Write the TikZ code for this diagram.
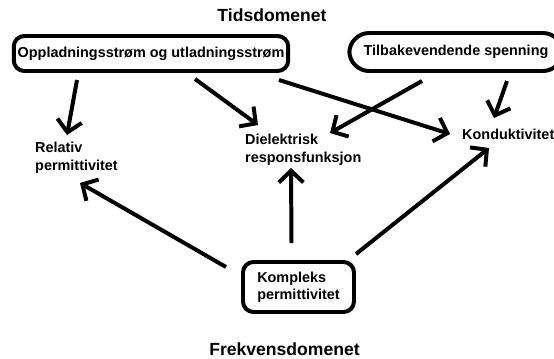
\documentclass[tikz,border=0pt]{standalone}
\usepackage{fontspec}
\setmainfont{Liberation Sans}
\usetikzlibrary{arrows.meta,calc}

\tikzset{
  boks/.style={draw, line width=3.4pt, rounded corners=9pt, align=left,
    font=\bfseries\fontsize{12.3}{14.5}\selectfont},
  etikett/.style={anchor=north west, inner sep=0pt, align=left,
    font=\bfseries\fontsize{12.3}{15.5}\selectfont},
  domene/.style={font=\bfseries\fontsize{15}{17}\selectfont},
  pil/.style={line width=3.4pt, -{Straight Barb[length=10pt,width=21pt]}}
}

\begin{document}
\begin{tikzpicture}[x=0.03cm,y=-0.03cm]
  \useasboundingbox (0,0) rectangle (554,358);

  % Domains
  \node[domene] (tid) at (272,15) {Tidsdomenet};
  \node[domene] (frekv) at (284.5,349) {Frekvensdomenet};

  % Measurements
  \node[boks, minimum width=8.16cm, minimum height=1.05cm] (lading) at (151,53.5)
    {Oppladningsstrøm og utladningsstrøm};
  \node[boks, rounded corners=17pt, minimum width=6.4cm, minimum height=1.14cm] (spenning) at (456,52)
    {Tilbakevendende spenning};
  \node[boks, minimum width=3.33cm, minimum height=1.5cm] (kompleks) at (298.5,287)
    {Kompleks\\permittivitet};

  % Quantities
  \node[etikett] (rel) at (35,142) {Relativ\\permittivitet};
  \node[etikett] (diel) at (245,134) {Dielektrisk\\responsfunksjon};
  \node[etikett] (kond) at (462,129) {Konduktivitet};

  % Arrows from the time domain
  \draw[pil] ($(lading.south)+(-74,7)$) -- ($(rel.north west)+(32,-7)$);
  \draw[pil] ($(lading.south)+(44,6)$) -- ($(diel.north west)+(13,-9)$);
  \draw[pil] ($(lading.south)+(128,7)$) -- ($(kond.north west)+(-12,5)$);
  \draw[pil] ($(spenning.south)+(-34,8)$) -- ($(diel.north west)+(85,-1)$);
  \draw[pil] ($(spenning.south)+(51,8)$) -- ($(kond.north west)+(32,-11)$);

  % Arrows from the frequency domain
  \draw[pil] ($(kompleks.west)+(-15,-20)$) -- ($(rel.north west)+(45,41)$);
  \draw[pil] ($(kompleks.north)+(-7,-17)$) -- ($(diel.north west)+(46,34)$);
  \draw[pil] ($(kompleks.north east)+(0,-6)$) -- ($(kond.north west)+(27,19)$);
\end{tikzpicture}
\end{document}
